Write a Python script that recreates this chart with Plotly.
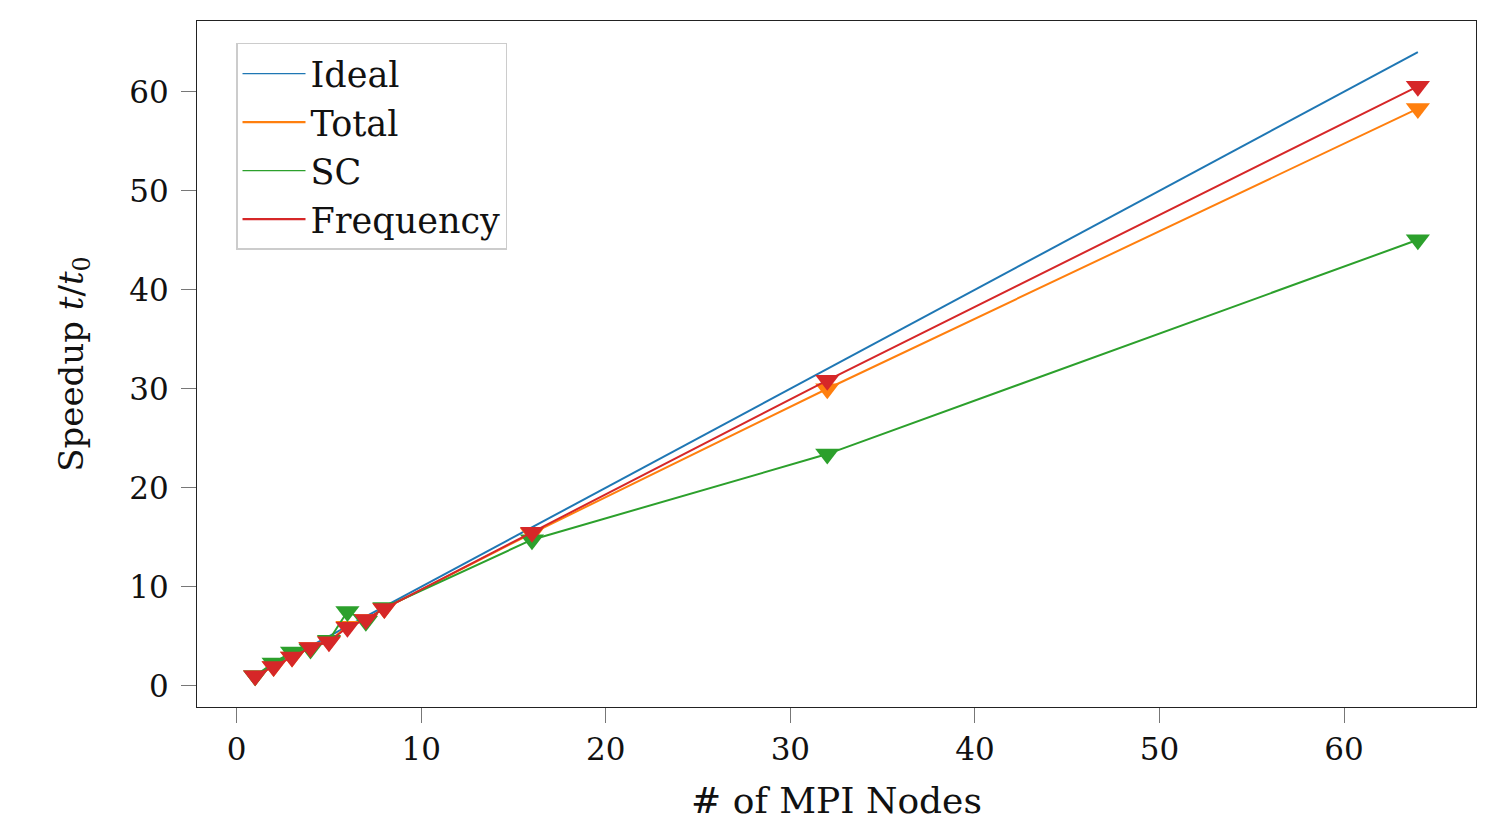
import plotly.graph_objects as go

nodes = [1, 2, 3, 4, 5, 6, 7, 8, 16, 32, 64]
ideal = [1, 2, 3, 4, 5, 6, 7, 8, 16, 32, 64]
total = [1, 1.95, 2.9, 3.85, 4.5, 6.0, 6.7, 7.8, 15.4, 30.0, 58.3]
sc = [1, 2.3, 3.4, 3.7, 4.6, 7.5, 6.5, 7.9, 14.75, 23.4, 45.05]
frequency = [1, 1.95, 2.9, 3.85, 4.45, 5.9, 6.7, 7.8, 15.5, 30.85, 60.55]

names = ["Ideal", "Total", "SC", "Frequency"]
colors = ["#1f77b4", "#ff7f0e", "#2ca02c", "#d62728"]
legend_widths = [1.2, 2.2, 1.2, 2.2]
tick_values = [0, 10, 20, 30, 40, 50, 60]

FONT = "DejaVu Serif"

fig = go.Figure()

fig.add_trace(go.Scatter(x=nodes, y=ideal, mode="lines", name=names[0],
                         line=dict(color=colors[0], width=2), showlegend=False))
for name, vals, col in zip(names[1:], [total, sc, frequency], colors[1:]):
    fig.add_trace(go.Scatter(x=nodes, y=vals, mode="lines+markers", name=name,
                             line=dict(color=col, width=2),
                             marker=dict(symbol="triangle-down", size=21, color=col,
                                         line=dict(width=0)),
                             showlegend=False))

# legend entries (lines only, like the reference)
for name, col, w in zip(names, colors, legend_widths):
    fig.add_trace(go.Scatter(x=[None], y=[None], mode="lines", name=name,
                             line=dict(color=col, width=w), showlegend=True))

axis_common = dict(
    showline=True, mirror=True, linecolor="#222222", linewidth=1.2,
    ticks="outside", ticklen=15, tickwidth=1, tickcolor="#777777",
    showgrid=False, zeroline=False,
    tickfont=dict(family=FONT, size=31, color="#111111"),
)

fig.update_layout(
    width=1509, height=827,
    margin=dict(l=197, r=33, t=21, b=120),
    paper_bgcolor="white", plot_bgcolor="white",
    font=dict(family=FONT, size=31, color="#111111"),
    xaxis=dict(range=[-2.15, 67.15], tickvals=tick_values,
               title=dict(text="# of MPI Nodes", font=dict(family=FONT, size=36), standoff=21),
               **axis_common),
    yaxis=dict(range=[-2.15, 67.15], tickvals=tick_values, ticklabelstandoff=6,
               title=dict(text="Speedup <i>t</i>/<i>t</i><sub>0</sub>", font=dict(family=FONT, size=34), standoff=35),
               **axis_common),
    legend=dict(x=0.0305, y=0.968, xanchor="left", yanchor="top",
                bgcolor="white", bordercolor="#cccccc", borderwidth=1.5,
                font=dict(family=FONT, size=35, color="#111111"),
                itemwidth=63, tracegroupgap=0),
    showlegend=True,
)

fig.write_html("out.html")
